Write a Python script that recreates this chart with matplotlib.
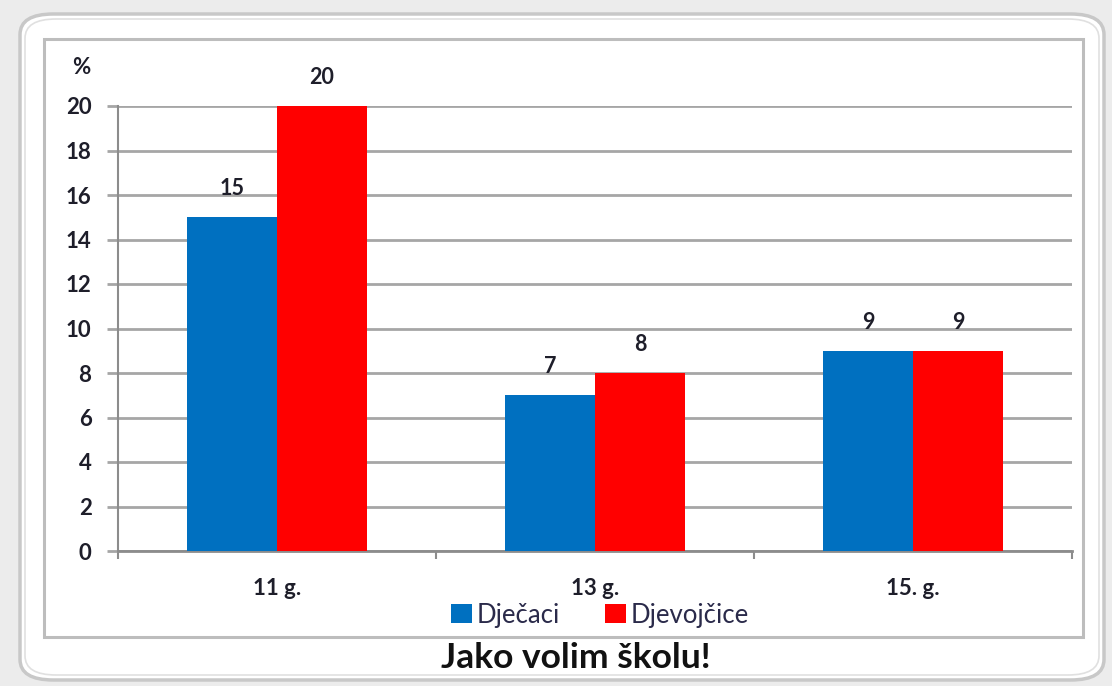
import matplotlib
matplotlib.use("Agg")
import matplotlib.pyplot as plt
import numpy as np
from matplotlib.patches import FancyBboxPatch, Rectangle

categories = ["11 g.", "13 g.", "15. g."]
djecaci = [15, 7, 9]
djevojcice = [20, 8, 9]
series_names = ["Dječaci", "Djevojčice"]
yticks = list(range(0, 21, 2))
title = "Jako volim školu!"

W, H = 1112, 686
fig = plt.figure(figsize=(W / 100, H / 100), dpi=100)
fig.patch.set_facecolor("#ececec")
plt.rcParams['font.family'] = ['Lato', 'DejaVu Sans']

def fx(px):
    return px / W

def fy(py):
    return 1 - py / H

# outer rounded frame
outer = FancyBboxPatch((fx(20), fy(680)), fx(1104) - fx(20), fy(14) - fy(680),
                       boxstyle="round,pad=0,rounding_size=0.03",
                       transform=fig.transFigure, facecolor="white",
                       edgecolor="#c8c8c8", linewidth=2.5, zorder=-3)
fig.patches.append(outer)
outer2 = FancyBboxPatch((fx(25), fy(675)), fx(1099) - fx(25), fy(19) - fy(675),
                        boxstyle="round,pad=0,rounding_size=0.028",
                        transform=fig.transFigure, facecolor="none",
                        edgecolor="#e0e0e0", linewidth=1.2, zorder=-2)
fig.patches.append(outer2)
# inner chart box
inner = Rectangle((fx(44), fy(637)), fx(1083) - fx(44), fy(39) - fy(637),
                  transform=fig.transFigure, facecolor="white",
                  edgecolor="#bdbdbd", linewidth=2.2, zorder=-1)
fig.patches.append(inner)

ax = fig.add_axes([fx(118), fy(551), fx(1072) - fx(118), fy(106) - fy(551)])
ax.set_zorder(2)
ax.set_facecolor("none")
x = np.arange(len(categories))
bw = 0.283
b1 = ax.bar(x - bw / 2, djecaci, bw, color="#0070C0", zorder=3, label=series_names[0])
b2 = ax.bar(x + bw / 2, djevojcice, bw, color="#FF0000", zorder=3, label=series_names[1])

txtc = "#1e1e2a"
for bars in (b1, b2):
    for r in bars:
        ax.text(r.get_x() + r.get_width() / 2, r.get_height() + 0.8, f"{r.get_height():g}",
                ha="center", va="bottom", fontsize=15.5, fontweight="bold", color=txtc)

ax.set_xlim(-0.5, len(categories) - 0.5)
ax.set_ylim(0, 20)
ax.set_yticks(yticks)
ax.set_yticklabels([str(v) for v in yticks], fontsize=16, fontweight="bold", color=txtc)
ax.yaxis.grid(True, color="#a6a6a6", linewidth=2.0, zorder=1)
ax.set_axisbelow(True)
ax.set_xticks(np.arange(len(categories) + 1) - 0.5)
ax.set_xticklabels([])
ax.tick_params(axis="x", direction="out", length=6, width=1.5, color="#8c8c8c")
ax.tick_params(axis="y", direction="out", length=8, width=2.0, color="#a6a6a6", pad=11)
for s in ("top", "right"):
    ax.spines[s].set_visible(False)
ax.spines["left"].set_color("#8c8c8c")
ax.spines["left"].set_linewidth(1.5)
ax.spines["bottom"].set_color("#8c8c8c")
ax.spines["bottom"].set_linewidth(2.0)

for i, c in enumerate(categories):
    ax.text(i, -0.06, c, transform=ax.get_xaxis_transform(), ha="center", va="top",
            fontsize=16, fontweight="bold", color=txtc)

fig.text(fx(81), fy(68), "%", ha="center", va="center", fontsize=16, fontweight="bold", color=txtc)

leg = fig.legend(handles=[b1, b2], labels=series_names, loc="center",
                 bbox_to_anchor=(fx(600), fy(615)), ncol=2, frameon=False,
                 fontsize=18.5, handlelength=0.8, handleheight=0.75, handletextpad=0.2,
                 columnspacing=1.75, borderpad=0)
for t in leg.get_texts():
    t.set_color("#2a2a4a")

fig.text(fx(576), fy(658), title, ha="center", va="center", fontsize=25.5,
         fontweight="bold", color="#111111")

fig.savefig("out.png", dpi=100, facecolor=fig.get_facecolor())
